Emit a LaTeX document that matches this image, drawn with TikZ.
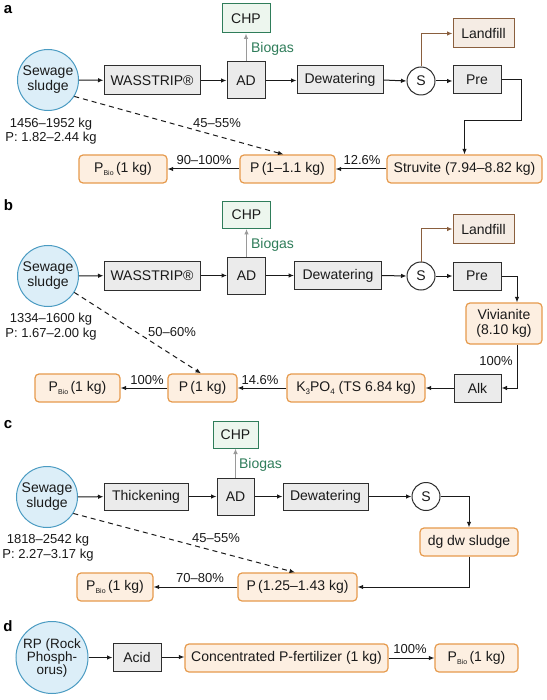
\documentclass[tikz,border=0pt]{standalone}
\usepackage{fontspec}
\setmainfont{Liberation Sans}
\usetikzlibrary{arrows.meta}
\definecolor{txt}{HTML}{1A1A1A}
\definecolor{procd}{HTML}{2E2E2E}
\definecolor{procf}{HTML}{EBEBEB}
\definecolor{prodd}{HTML}{E69A4C}
\definecolor{prodf}{HTML}{FDEFE1}
\definecolor{srcd}{HTML}{4A9BC2}
\definecolor{srcf}{HTML}{DCEEF8}
\definecolor{chpd}{HTML}{2F7D5A}
\definecolor{chpf}{HTML}{EDF6EE}
\definecolor{landd}{HTML}{8A5F3E}
\definecolor{landf}{HTML}{F5ECE4}
\definecolor{garrc}{HTML}{9A9A9A}
\newcommand{\pbiotxt}{P\raisebox{-2.5pt}{\fontsize{7}{7}\selectfont Bio}\,(1 kg)}
\newcommand{\subn}[1]{\raisebox{-2.5pt}{\fontsize{8}{8}\selectfont #1}}
\begin{document}
\begin{tikzpicture}[x=1pt,y=-1pt,
  base/.style={inner sep=0pt, font=\fontsize{14}{15}\selectfont, text=txt, line width=1pt},
  proc/.style={base, draw=procd, fill=procf, minimum height=28pt},
  prod/.style={base, draw=prodd, fill=prodf, rounded corners=4pt, minimum height=28pt, align=center, line width=1.2pt},
  src/.style={base, circle, draw=srcd, fill=srcf, minimum size=61pt, align=center},
  sepn/.style={base, circle, draw=procd, fill=white, minimum size=28pt},
  chpbox/.style={base, draw=chpd, fill=chpf, minimum height=28pt},
  landbox/.style={base, draw=landd, fill=landf, minimum height=29pt},
  lbl/.style={font=\fontsize{13}{14.5}\selectfont, text=txt, inner sep=0pt, align=center},
  bio/.style={font=\fontsize{14}{15}\selectfont, text=chpd, inner sep=0pt},
  plabel/.style={font=\bfseries\fontsize{15}{15}\selectfont, inner sep=0pt},
  arr/.style={-{Latex[length=5.5pt,width=4.5pt]}, line width=1pt, draw=txt},
  darr/.style={arr, dash pattern=on 5pt off 4pt},
  garr/.style={arr, draw=garrc},
  barr/.style={arr, draw=landd}]
\useasboundingbox[fill=white] (0,0) rectangle (546,700);

% ---------------- panel a ----------------
\node[plabel] (la) at (8,10) {a};
\node[src] (sa) at (48,80) {Sewage\\sludge};
\node[proc, minimum width=96pt, minimum height=29pt] (wa) at (152,80.5) {WASSTRIP®};
\node[proc, minimum width=38pt, minimum height=37pt] (ada) at (246,80.5) {AD};
\node[chpbox, minimum width=48pt, minimum height=29pt] (chpa) at (246,18.5) {CHP};
\node[bio] (ba) at (272.5,49) {Biogas};
\node[proc, minimum width=86pt] (dwa) at (340,80) {Dewatering};
\node[sepn] (ssa) at (421,81) {S};
\node[proc, minimum width=48pt] (prea) at (477,80) {Pre};
\node[landbox, minimum width=61pt] (lfa) at (483.5,33.5) {Landfill};
\node[prod, minimum width=155pt] (sta) at (464.5,169) {Struvite (7.94–8.82 kg)};
\node[prod, minimum width=95pt] (pa) at (287.5,169) {P\,(1–1.1 kg)};
\node[prod, minimum width=88pt] (pba) at (123,169) {\pbiotxt};
\node[lbl] (ma) at (51,131) {1456–1952 kg\\P: 1.82–2.44 kg};
\node[lbl] (l1a) at (217,123) {45–55\%};
\node[lbl] (l2a) at (204,160) {90–100\%};
\node[lbl] (l3a) at (362,160) {12.6\%};
\coordinate (ca1) at (521,80);
\coordinate (ca2) at (521,121);
\coordinate (ca3) at (464.5,121);

\draw[arr] (sa) -- (wa);
\draw[arr] (wa) -- (ada);
\draw[arr] (ada.east) -- (ada.east -| dwa.west);
\draw[garr] (ada.north) -- (chpa.south);
\draw[arr] (dwa.east) -- (ssa.west);
\draw[arr] (ssa.east) -- (ssa.east -| prea.west);
\draw[barr] (ssa.north) |- (lfa.west);
\draw[arr] (prea.east) -- (ca1) -- (ca2) -- (ca3) -- (sta.north);
\draw[arr] (sta.west) -- (pa.east);
\draw[arr] (pa.west) -- (pba.east);
\draw[darr] (sa.-32) -- ([xshift=-4pt]pa.north);

% ---------------- panel b ----------------
\node[plabel] (lb) at (8.5,205) {b};
\node[src] (sb) at (48,276) {Sewage\\sludge};
\node[proc, minimum width=96pt, minimum height=29pt] (wb) at (152,275.5) {WASSTRIP®};
\node[proc, minimum width=38pt, minimum height=37pt] (adb) at (246.5,275.5) {AD};
\node[chpbox, minimum width=48pt, minimum height=27pt] (chpb) at (246.5,215) {CHP};
\node[bio] (bb) at (272.5,245) {Biogas};
\node[proc, minimum width=87pt] (dwb) at (338,275.5) {Dewatering};
\node[sepn] (ssb) at (421,276) {S};
\node[proc, minimum width=48pt] (preb) at (477,276) {Pre};
\node[landbox, minimum width=61pt] (lfb) at (483.5,229) {Landfill};
\node[prod, minimum width=76pt, minimum height=41pt] (vb) at (504,323.5) {Vivianite\\(8.10 kg)};
\node[proc, minimum width=47pt] (alk) at (477.5,388) {Alk};
\node[prod, minimum width=138pt] (k3) at (356,388) {K\subn{3}PO\subn{4} (TS 6.84 kg)};
\node[prod, minimum width=69pt] (pb) at (202.5,388) {P\,(1 kg)};
\node[prod, minimum width=85pt] (pbb) at (77.5,388) {\pbiotxt};
\node[lbl] (mb) at (51,326.5) {1334–1600 kg\\P: 1.67–2.00 kg};
\node[lbl] (l1b) at (172,332) {50–60\%};
\node[lbl] (l2b) at (147,380) {100\%};
\node[lbl] (l3b) at (260,380) {14.6\%};
\node[lbl] (l4b) at (496,361) {100\%};

\draw[arr] (sb) -- (wb);
\draw[arr] (wb) -- (adb);
\draw[arr] (adb.east) -- (adb.east -| dwb.west);
\draw[garr] (adb.north) -- (chpb.south);
\draw[arr] (dwb.east) -- (ssb.west);
\draw[arr] (ssb.east) -- (ssb.east -| preb.west);
\draw[barr] (ssb.north) |- (lfb.west);
\draw[arr] (preb.east) -| ([xshift=13pt]vb.north);
\draw[arr] ([xshift=13pt]vb.south) |- (alk.east);
\draw[arr] (alk.west) -- (k3.east);
\draw[arr] (k3.west) -- (pb.east);
\draw[arr] (pb.west) -- (pbb.east);
\draw[darr] (sb.-32) -- ([xshift=-1.5pt]pb.north);

% ---------------- panel c ----------------
\node[plabel] (lc) at (8,425) {c};
\node[src] (sc) at (47,497) {Sewage\\sludge};
\node[proc, minimum width=84pt, minimum height=27pt] (th) at (146,496.5) {Thickening};
\node[proc, minimum width=37pt, minimum height=37pt] (adc) at (235.5,496.5) {AD};
\node[chpbox, minimum width=45pt, minimum height=27pt] (chpc) at (235.5,434.5) {CHP};
\node[bio] (bc) at (260.5,465) {Biogas};
\node[proc, minimum width=85pt, minimum height=27pt] (dwc) at (325.5,496.5) {Dewatering};
\node[sepn] (ssc) at (426,496.5) {S};
\node[prod, minimum width=98pt] (dg) at (469,542) {dg dw sludge};
\node[prod, minimum width=119pt] (pc) at (297.5,587) {P\,(1.25–1.43 kg)};
\node[prod, minimum width=76pt] (pbc) at (115,587) {\pbiotxt};
\node[lbl] (mc) at (48,547.5) {1818–2542 kg\\P: 2.27–3.17 kg};
\node[lbl] (l1c) at (216,538) {45–55\%};
\node[lbl] (l2c) at (200,578) {70–80\%};

\draw[arr] (sc) -- (th);
\draw[arr] (th) -- (adc);
\draw[arr] (adc.east) -- (adc.east -| dwc.west);
\draw[garr] (adc.north) -- (chpc.south);
\draw[arr] (dwc.east) -- (ssc.west);
\draw[arr] (ssc.east) -| (dg.north);
\draw[arr] (dg.south) |- (pc.east);
\draw[arr] (pc.west) -- (pbc.east);
\draw[darr] (sc.-32) -- ([xshift=-2.5pt]pc.north);

% ---------------- panel d ----------------
\node[plabel] (ld) at (8,626) {d};
\node[src, minimum size=72pt, font=\fontsize{13.5}{13}\selectfont] (rp) at (52,657.5) {RP (Rock\\Phosph-\\orus)};
\node[proc, minimum width=48pt] (acid) at (137,657) {Acid};
\node[prod, minimum width=203pt] (cf) at (286.5,658) {Concentrated P-fertilizer (1 kg)};
\node[prod, minimum width=83pt] (pbd) at (476.5,658) {\pbiotxt};
\node[lbl] (l1d) at (410,649) {100\%};

\draw[arr] (rp.east) -- (rp.east -| acid.west);
\draw[arr] (acid.east) -- (acid.east -| cf.west);
\draw[arr] (cf.east) -- (cf.east -| pbd.west);
\end{tikzpicture}
\end{document}
